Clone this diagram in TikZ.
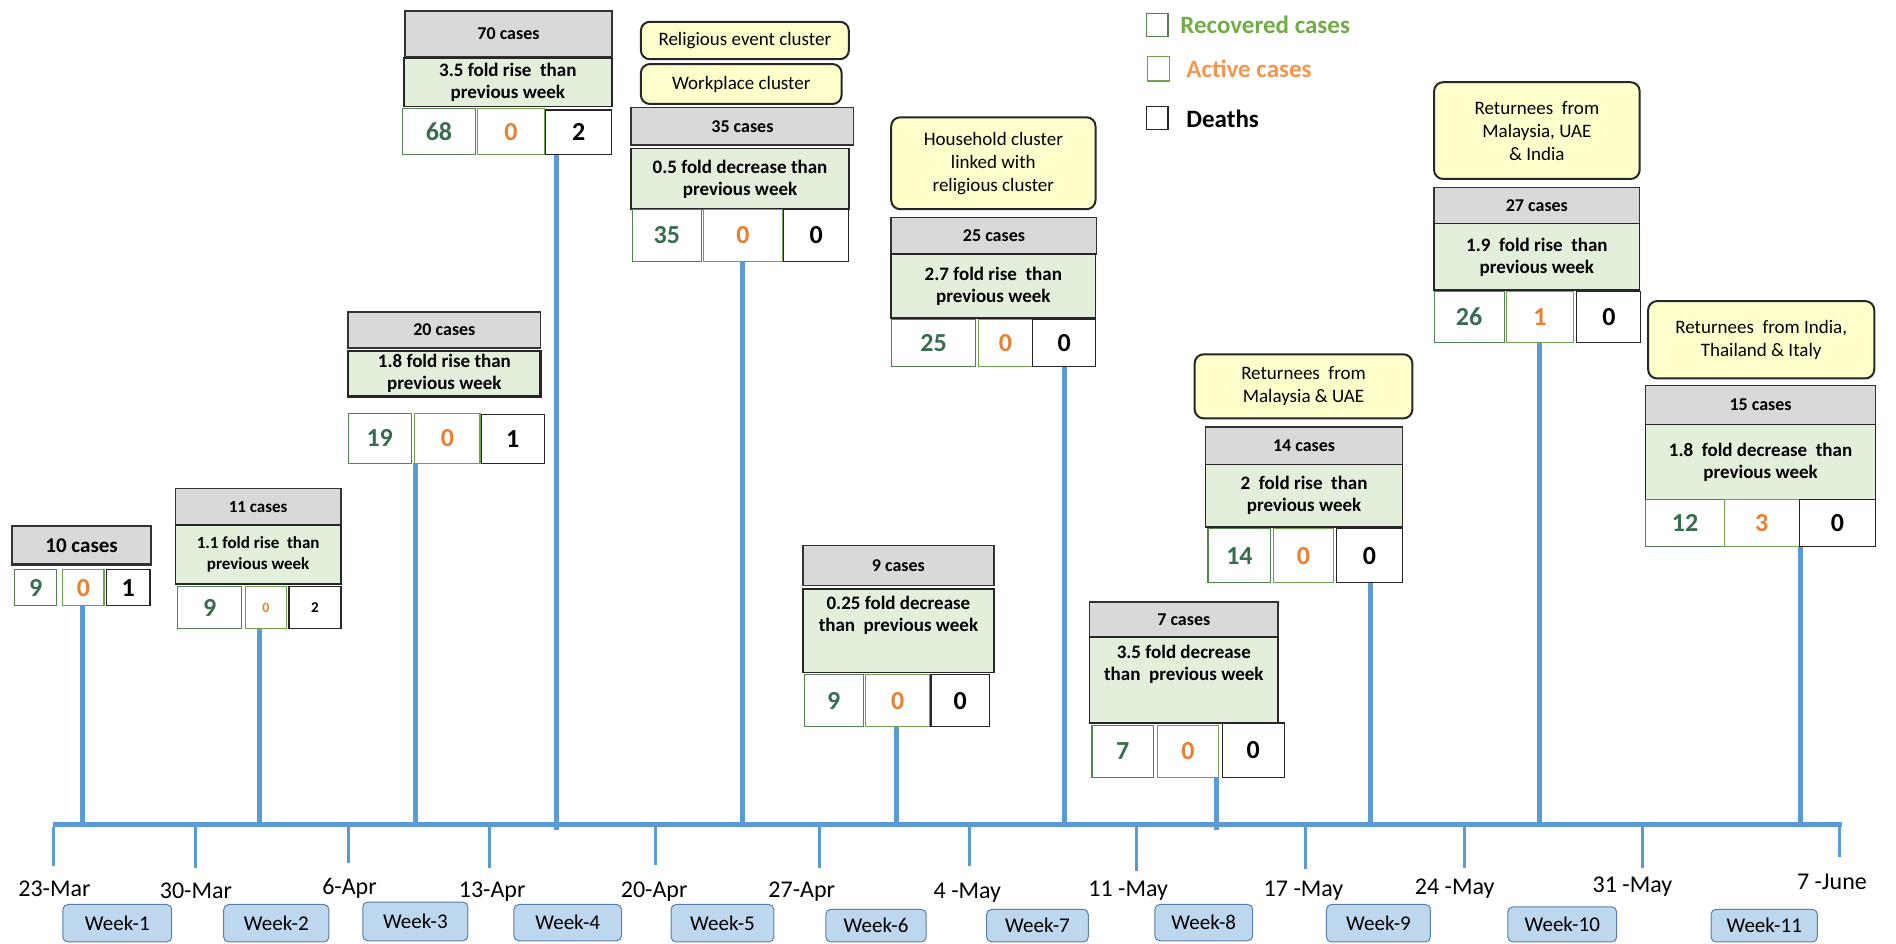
\documentclass[tikz,border=0pt]{standalone}
\usepackage{fontspec}
\setmainfont{Carlito}
\definecolor{axisblue}{RGB}{91,155,213}
\definecolor{hdrgray}{RGB}{217,217,217}
\definecolor{foldgreen}{RGB}{226,239,218}
\definecolor{recnum}{RGB}{56,108,78}
\definecolor{recbord}{RGB}{84,130,80}
\definecolor{actnum}{RGB}{237,125,49}
\definecolor{actbord}{RGB}{112,160,80}
\definecolor{noteyellow}{RGB}{255,255,204}
\definecolor{weekfill}{RGB}{189,215,238}
\definecolor{weekbord}{RGB}{90,125,165}
\definecolor{legrec}{RGB}{112,173,71}
\definecolor{legact}{RGB}{244,150,80}
\newcommand\bx[7]{%
  \pgfmathsetmacro\bxw{(#5-#3)*1.2092}%
  \pgfmathsetmacro\bxh{(#6-#4)*1.2092}%
  \node[#1, minimum width=\bxw pt, minimum height=\bxh pt, anchor=center] (#2) at ({(#3+#5)/2},{(#4+#6)/2}) {#7};}
\begin{document}
\begin{tikzpicture}[x=1.2092pt,y=-1.2092pt,
  hdr/.style={draw=black!80, fill=hdrgray, line width=1.5pt, inner sep=0pt, font=\fontsize{18}{21}\selectfont\bfseries},
  fold/.style={draw=black!85, fill=foldgreen, line width=1.5pt, inner sep=0pt, align=center, font=\fontsize{19}{22}\selectfont\bfseries},
  foldtext/.style={inner sep=0pt, align=center, font=\fontsize{19}{22}\selectfont\bfseries},
  rec/.style={draw=recbord, fill=white, line width=1.2pt, inner sep=0pt, text=recnum, font=\fontsize{26}{26}\selectfont\bfseries},
  act/.style={draw=actbord, fill=white, line width=1.2pt, inner sep=0pt, text=actnum, font=\fontsize{26}{26}\selectfont\bfseries},
  dth/.style={draw=black!85, fill=white, line width=1.2pt, inner sep=0pt, text=black, font=\fontsize{26}{26}\selectfont\bfseries},
  note/.style={draw=black!85, fill=noteyellow, line width=2pt, rounded corners=9pt, inner sep=0pt, align=center, font=\fontsize{19}{23}\selectfont},
  weekbox/.style={draw=weekbord, fill=weekfill, line width=1pt, rounded corners=5pt, inner sep=0pt, font=\fontsize{21}{21}\selectfont},
  stem/.style={draw=axisblue, line width=5pt},
  axisline/.style={draw=axisblue, line width=5pt},
  tickline/.style={draw=axisblue, line width=3pt},
  datelbl/.style={inner sep=0pt, font=\fontsize{24}{24}\selectfont},
  legbox/.style={draw=#1, line width=1.3pt, fill=white, inner sep=0pt},
  legtext/.style={anchor=west, inner sep=0pt, font=\fontsize{25}{25}\selectfont\bfseries}
]
\useasboundingbox (0,0) rectangle (1568,780);

% ---- axis and ticks
\coordinate (axL) at (44,682);
\coordinate (axR) at (1523,682);
\draw[axisline] (axL) -- (axR);
\foreach \n/\x/\yb/\lx/\ly/\t in {
  1/44/716/45/735/23-Mar,
  2/162/718/162/737/30-Mar,
  3/288/714/289/735/6-Apr,
  4/405/718/407/737/13-Apr,
  5/542/715/541/737/20-Apr,
  6/678/718/663/737/27-Apr,
  7/802/716/800/738/4 -May,
  8/940/720/933/737/11 -May,
  9/1080/719/1078/737/17 -May,
  10/1211/718/1203/735/24 -May,
  11/1358/718/1350/733/31 -May,
  12/1521/709/1515/729/7 -June}{
  \coordinate (tk\n) at (\x,684);
  \coordinate (tb\n) at (\x,\yb);
  \draw[tickline] (tk\n) -- (tb\n);
  \node[datelbl] (dt\n) at (\lx,\ly) {\t};
}

% ---- week boxes
\bx{weekbox}{w1}{52}{748}{142}{779}{Week-1}
\bx{weekbox}{w2}{185}{748}{272}{779}{Week-2}
\bx{weekbox}{w3}{300}{746}{387}{778}{Week-3}
\bx{weekbox}{w4}{425}{748}{514}{778}{Week-4}
\bx{weekbox}{w5}{555}{748}{640}{779}{Week-5}
\bx{weekbox}{w6}{683}{752}{766}{779}{Week-6}
\bx{weekbox}{w7}{816}{752}{900}{779}{Week-7}
\bx{weekbox}{w8}{955}{748}{1036}{778}{Week-8}
\bx{weekbox}{w9}{1097}{748}{1183}{779}{Week-9}
\bx{weekbox}{w10}{1247}{750}{1337}{779}{Week-10}
\bx{weekbox}{w11}{1415}{752}{1503}{779}{Week-11}

% ---- stems
\foreach \n/\x/\ya/\yb in {1/68/501/682, 2/215/520/682, 3/344/383/682, 4/460/128/686,
  5/614/216/682, 6/741/601/682, 7/880/303/682, 8/1006/643/686, 9/1133/482/682,
  10/1273/283/682, 11/1489/452/682}{
  \coordinate (st\n) at (\x,\ya);
  \coordinate (sb\n) at (\x,\yb);
  \draw[stem] (st\n) -- (sb\n);
}

% ---- group 1
\bx{hdr,line width=2.5pt,font=\fontsize{21}{21}\selectfont\bfseries}{h1}{10}{435}{125}{467}{10 cases}
\bx{rec}{r1}{12}{471}{47}{501}{9}
\bx{act}{a1}{52}{471}{86}{501}{0}
\bx{dth}{d1}{88}{471}{124}{501}{1}

% ---- group 2
\bx{hdr,font=\fontsize{17}{20}\selectfont\bfseries}{h2}{145}{404}{282}{434}{11 cases}
\bx{fold,font=\fontsize{17}{21}\selectfont\bfseries}{f2}{145}{434}{282}{483}{1.1 fold rise\ \ than\\previous week}
\bx{rec}{r2}{147}{485}{200}{520}{9}
\bx{act,font=\fontsize{14}{14}\selectfont\bfseries}{a2}{203}{485}{237}{520}{0}
\bx{dth,font=\fontsize{15}{15}\selectfont\bfseries}{d2}{239}{485}{282}{520}{2}

% ---- group 3
\bx{hdr}{h3}{288}{258}{447}{288}{20 cases}
\bx{fold,line width=2.3pt}{f3}{288}{290}{447}{328}{1.8 fold rise than\\previous week}
\bx{rec}{r3}{288}{342}{340}{383}{19}
\bx{act}{a3}{343}{342}{397}{383}{0}
\bx{dth}{d3}{398}{343}{450}{383}{1}

% ---- group 4
\bx{hdr}{h4}{335}{9}{506}{47}{70 cases}
\bx{fold}{f4}{334}{48}{506}{88}{3.5 fold rise\ \ than\\previous week}
\bx{rec}{r4}{333}{90}{393}{128}{68}
\bx{act}{a4}{395}{90}{450}{128}{0}
\bx{dth}{d4}{451}{91}{506}{128}{2}

% ---- group 5
\bx{note}{n5a}{530}{18}{702}{49}{Religious event cluster}
\bx{note}{n5b}{530}{53}{696}{86}{Workplace cluster}
\bx{hdr}{h5}{522}{89}{706}{120}{35 cases}
\bx{fold}{f5}{522}{123}{702}{173}{0.5 fold decrease than\\previous week}
\bx{rec}{r5}{523}{173}{580}{216}{35}
\bx{act}{a5}{582}{173}{647}{216}{0}
\bx{dth}{d5}{648}{173}{702}{216}{0}

% ---- group 6
\bx{hdr}{h6}{664}{451}{822}{484}{9 cases}
\bx{fold}{f6}{664}{487}{822}{556}{}
\node[foldtext,anchor=north] (f6t) at ([yshift=-8pt]f6.north) {0.25 fold decrease\\than\ \ previous week};
\bx{rec}{r6}{665}{558}{714}{601}{9}
\bx{act}{a6}{716}{558}{769}{601}{0}
\bx{dth}{d6}{770}{558}{818}{601}{0}

% ---- group 7
\bx{note}{n7}{737}{97}{906}{173}{Household cluster\\linked with\\religious cluster}
\bx{hdr}{h7}{737}{180}{907}{210}{25 cases}
\bx{fold}{f7}{737}{210}{906}{263}{2.7 fold rise\ \ than\\previous week}
\bx{rec}{r7}{737}{264}{807}{303}{25}
\bx{act}{a7}{809}{264}{854}{303}{0}
\bx{dth}{d7}{854}{264}{906}{303}{0}

% ---- group 8
\bx{hdr}{h8}{901}{498}{1057}{527}{7 cases}
\bx{fold}{f8}{901}{527}{1057}{598}{}
\node[foldtext,anchor=north] (f8t) at ([yshift=-8pt]f8.north) {3.5 fold decrease\\than\ \ previous week};
\bx{rec}{r8}{903}{600}{954}{643}{7}
\bx{act}{a8}{957}{600}{1008}{643}{0}
\bx{dth}{d8}{1011}{598}{1062}{643}{0}

% ---- group 9
\bx{note}{n9}{988}{293}{1168}{346}{Returnees\ \ from\\Malaysia \& UAE}
\bx{hdr}{h9}{997}{353}{1160}{384}{14 cases}
\bx{fold}{f9}{997}{384}{1160}{436}{2\ \ fold rise\ \ than\\previous week}
\bx{rec}{r9}{999}{437}{1051}{482}{14}
\bx{act}{a9}{1053}{437}{1103}{482}{0}
\bx{dth}{d9}{1105}{437}{1160}{482}{0}

% ---- group 10
\bx{note}{n10}{1186}{68}{1356}{148}{Returnees\ \ from\\Malaysia, UAE\\\& India}
\bx{hdr}{h10}{1186}{155}{1356}{185}{27 cases}
\bx{fold}{f10}{1186}{185}{1356}{240}{1.9\ \ fold rise\ \ than\\previous week}
\bx{rec}{r10}{1186}{241}{1244}{283}{26}
\bx{act}{a10}{1246}{241}{1301}{283}{1}
\bx{dth}{d10}{1304}{241}{1357}{283}{0}

% ---- group 11
\bx{note}{n11}{1363}{249}{1550}{313}{Returnees\ \ from India,\\Thailand \& Italy}
\bx{hdr}{h11}{1361}{319}{1551}{351}{15 cases}
\bx{fold}{f11}{1361}{351}{1551}{413}{1.8\ \ fold decrease\ \ than\\previous week}
\bx{rec}{r11}{1361}{413}{1426}{452}{12}
\bx{act}{a11}{1426}{413}{1488}{452}{3}
\bx{dth}{d11}{1488}{413}{1551}{452}{0}

% ---- legend
\bx{legbox=recbord}{lg1}{948}{11}{966}{30}{}
\bx{legbox=actbord}{lg2}{949}{47}{967}{67}{}
\bx{legbox=black!85}{lg3}{948}{88}{966}{107}{}
\node[legtext,text=legrec] (lt1) at (976,20.5) {Recovered cases};
\node[legtext,text=legact] (lt2) at (981,57) {Active cases};
\node[legtext,text=black] (lt3) at (981,98) {Deaths};
\end{tikzpicture}
\end{document}
